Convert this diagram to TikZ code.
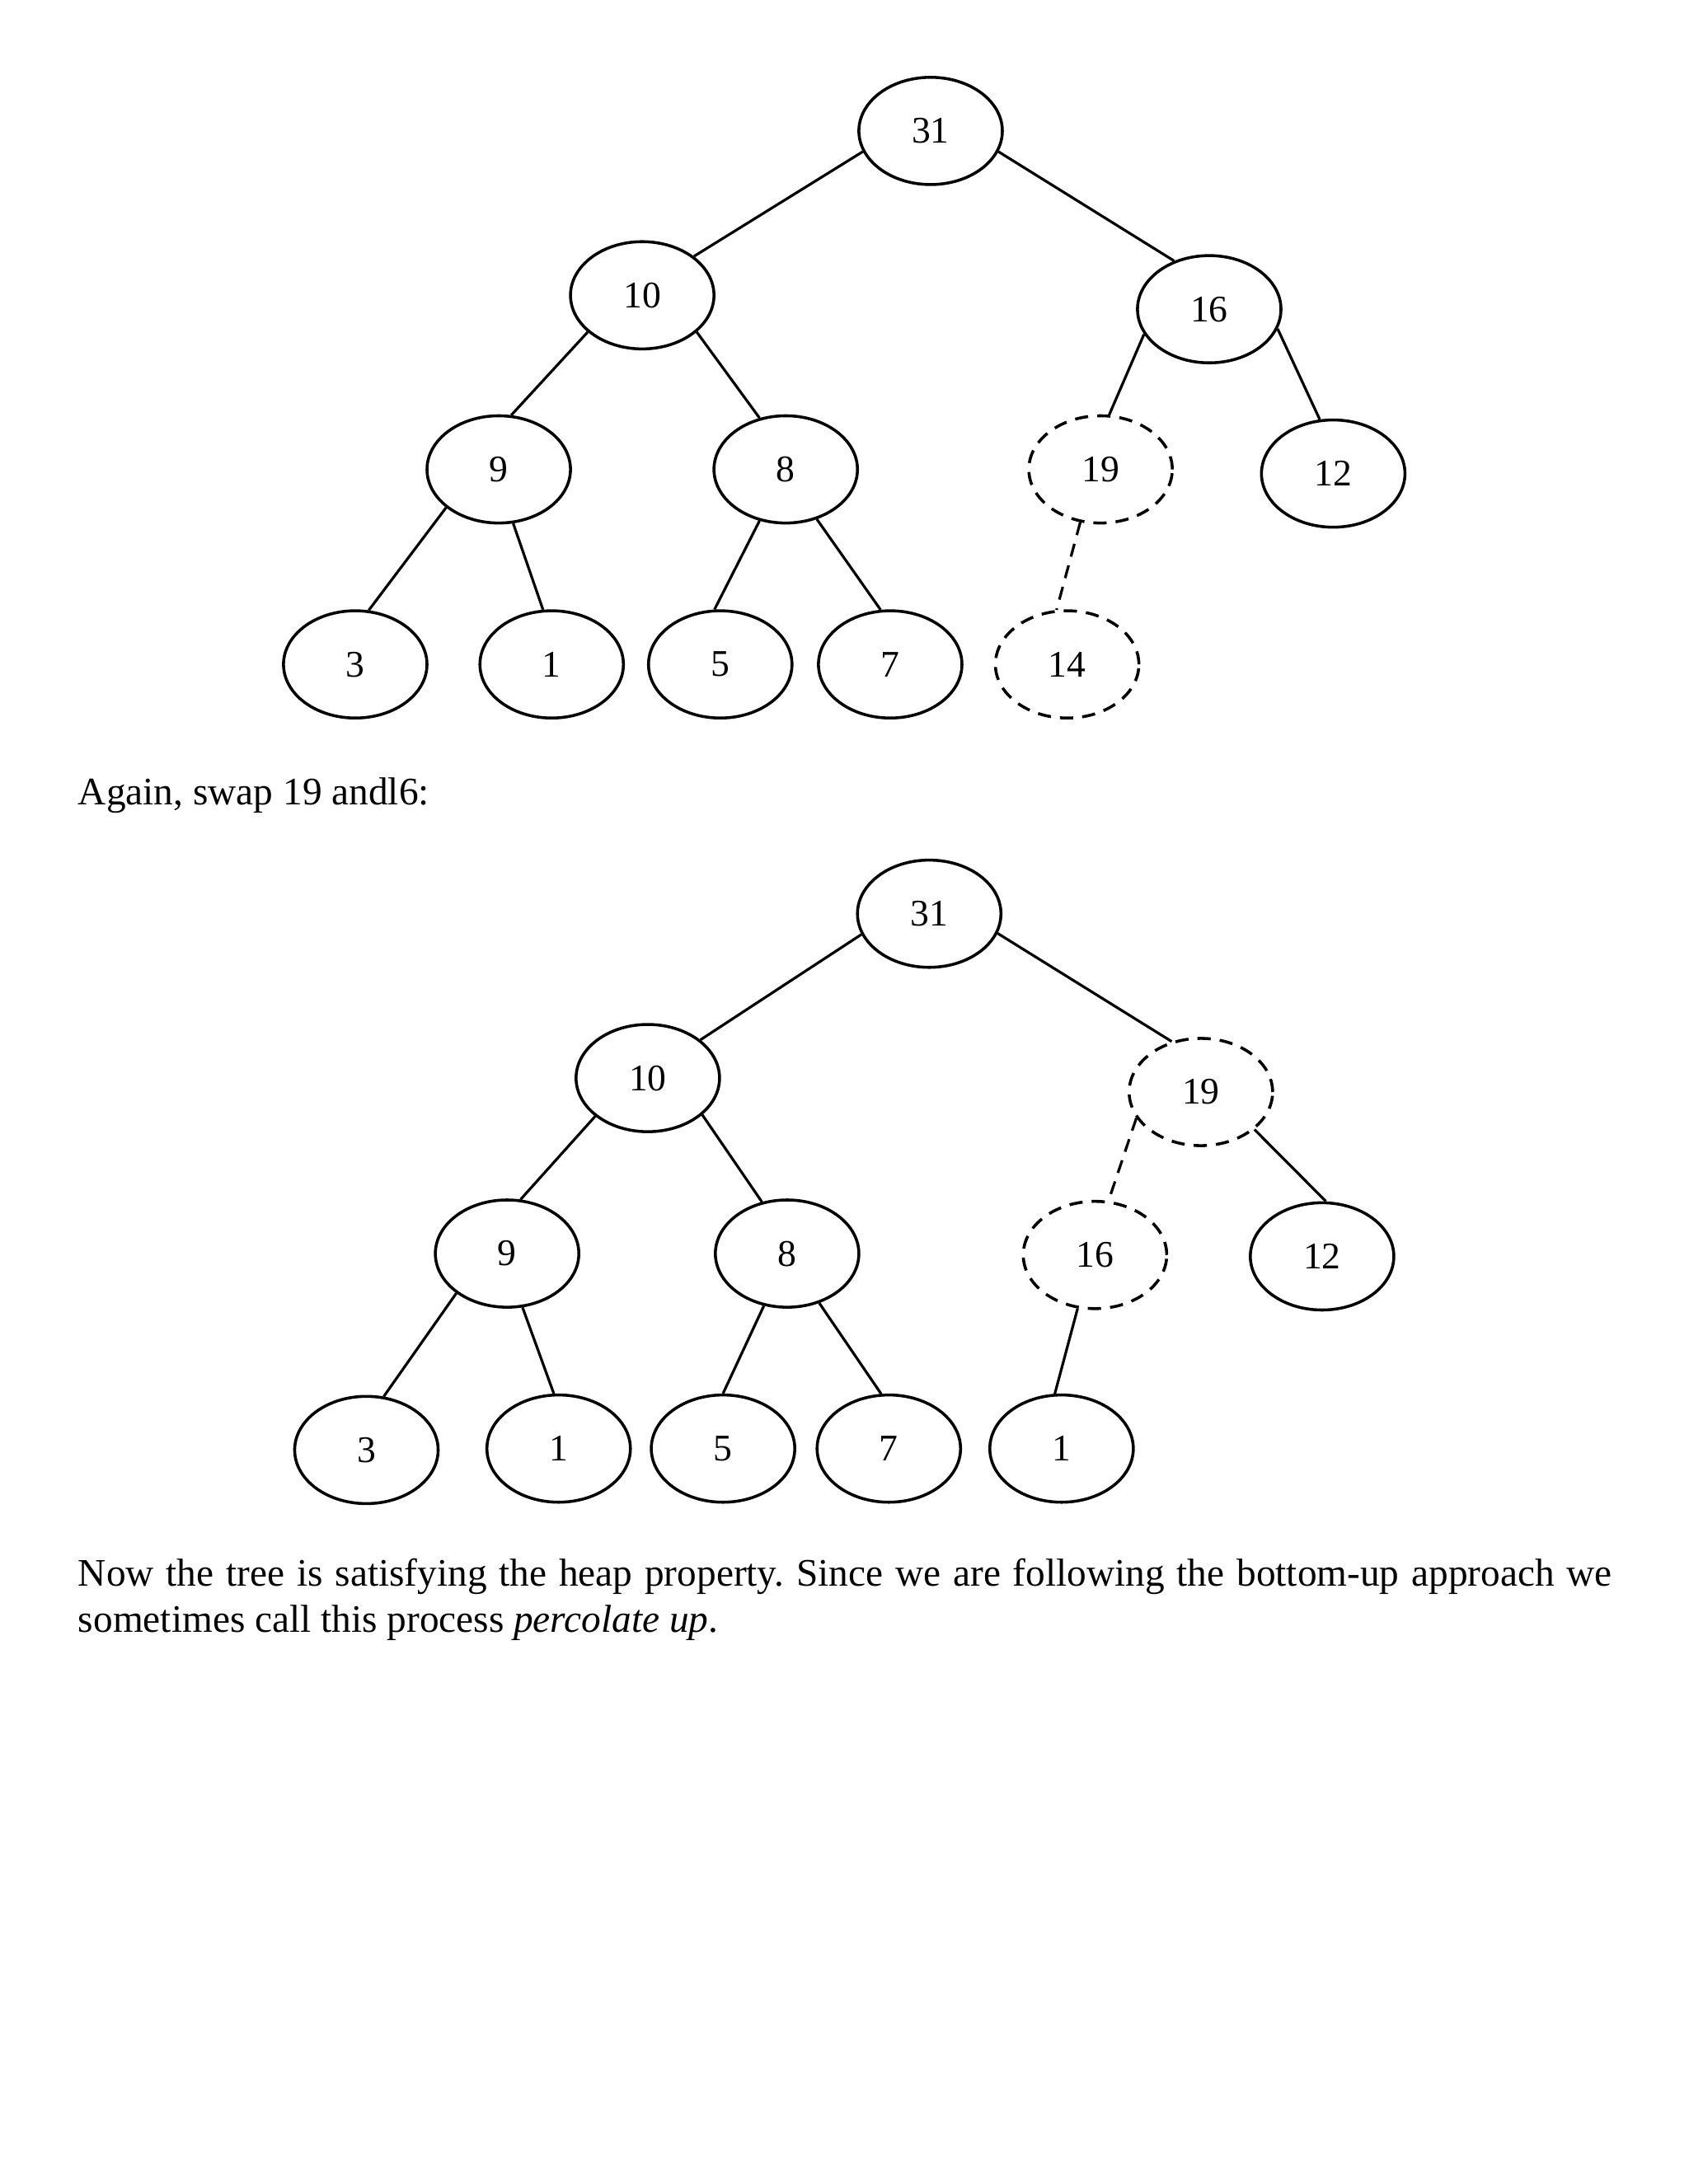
\documentclass[tikz,border=0pt]{standalone}
\usepackage{fontspec}
\setmainfont{Liberation Serif}
\usetikzlibrary{shapes.geometric}
\begin{document}
\frenchspacing
\begin{tikzpicture}[x=1pt,y=-1pt,
  hnode/.style={ellipse,draw,line width=2.1pt,minimum width=103pt,minimum height=77pt,inner sep=0pt,font=\fontsize{27}{27}\selectfont},
  hdash/.style={hnode,dash pattern=on 9.5pt off 6.5pt},
  edge/.style={line width=1.9pt},
  dedge/.style={line width=1.9pt,dash pattern=on 9.5pt off 6.5pt},
  txt/.style={anchor=base west,inner sep=0pt,font=\fontsize{28}{32}\selectfont}]
\useasboundingbox (0,0) rectangle (1212,1568);
% Tree 1
\node[hnode] (a31) at (668,94) {31};
\node[hnode] (a10) at (461,212) {10};
\node[hnode] (a16) at (868,222) {16};
\node[hnode] (a9) at (358,337) {9};
\node[hnode] (a8) at (564,337) {8};
\node[hdash] (a19) at (790,337) {19};
\node[hnode] (a12) at (957,340) {12};
\node[hnode] (a3) at (255,477) {3};
\node[hnode] (a1) at (396,477) {1};
\node[hnode] (a5) at (517,477) {5};
\node[hnode] (a7) at (639,477) {7};
\node[hdash] (a14) at (766,477) {14};
\draw[edge] (a31.197) -- (a10.37);
\draw[edge] (a31.343) -- (a16.126);
\draw[edge] (a10.214) -- (a9.77);
\draw[edge] (a10.326) -- (a8.117);
\draw[edge] (a16.201) -- (a19.81);
\draw[edge] (a16.344) -- (a12.104);
\draw[edge] (a9.216) -- (a3.76);
\draw[edge] (a9.285) -- (a1.99);
\draw[edge] (a8.243) -- (a5.96);
\draw[edge] (a8.302) -- (a7.100);
\draw[dedge] (a19.249) -- (a14.101);
% Text
\node[txt] (t1) at (56,577.6) {Again, swap 19 andl6:};
% Tree 2
\node[hnode] (b31) at (667,656) {31};
\node[hnode] (b10) at (465,774) {10};
\node[hdash] (b19) at (862,784) {19};
\node[hnode] (b9) at (364,900) {9};
\node[hnode] (b8) at (565,900) {8};
\node[hdash] (b16) at (786,901) {16};
\node[hnode] (b12) at (949,902) {12};
\node[hnode] (b3) at (263,1041) {3};
\node[hnode] (b1) at (401,1040) {1};
\node[hnode] (b5) at (519,1040) {5};
\node[hnode] (b7) at (638,1040) {7};
\node[hnode] (b1b) at (762,1040) {1};
\draw[edge] (b31.197) -- (b10.36);
\draw[edge] (b31.344) -- (b19.120);
\draw[edge] (b10.216) -- (b9.76);
\draw[edge] (b10.326) -- (b8.116);
\draw[dedge] (b19.202) -- (b16.76);
\draw[edge] (b19.325) -- (b12.86);
\draw[edge] (b9.218) -- (b3.72);
\draw[edge] (b9.286) -- (b1.95);
\draw[edge] (b8.246) -- (b5.90);
\draw[edge] (b8.303) -- (b7.98);
\draw[edge] (b16.252) -- (b1b.97);
% Paragraph
\node[txt] (p1) at (56,1139) {\makebox[1101pt][s]{Now the tree is satisfying the heap property. Since we are following the bottom-up approach we}};
\node[txt] (p2) at (56,1171.7) {sometimes call this process \textit{percolate up}.};
\end{tikzpicture}
\end{document}
